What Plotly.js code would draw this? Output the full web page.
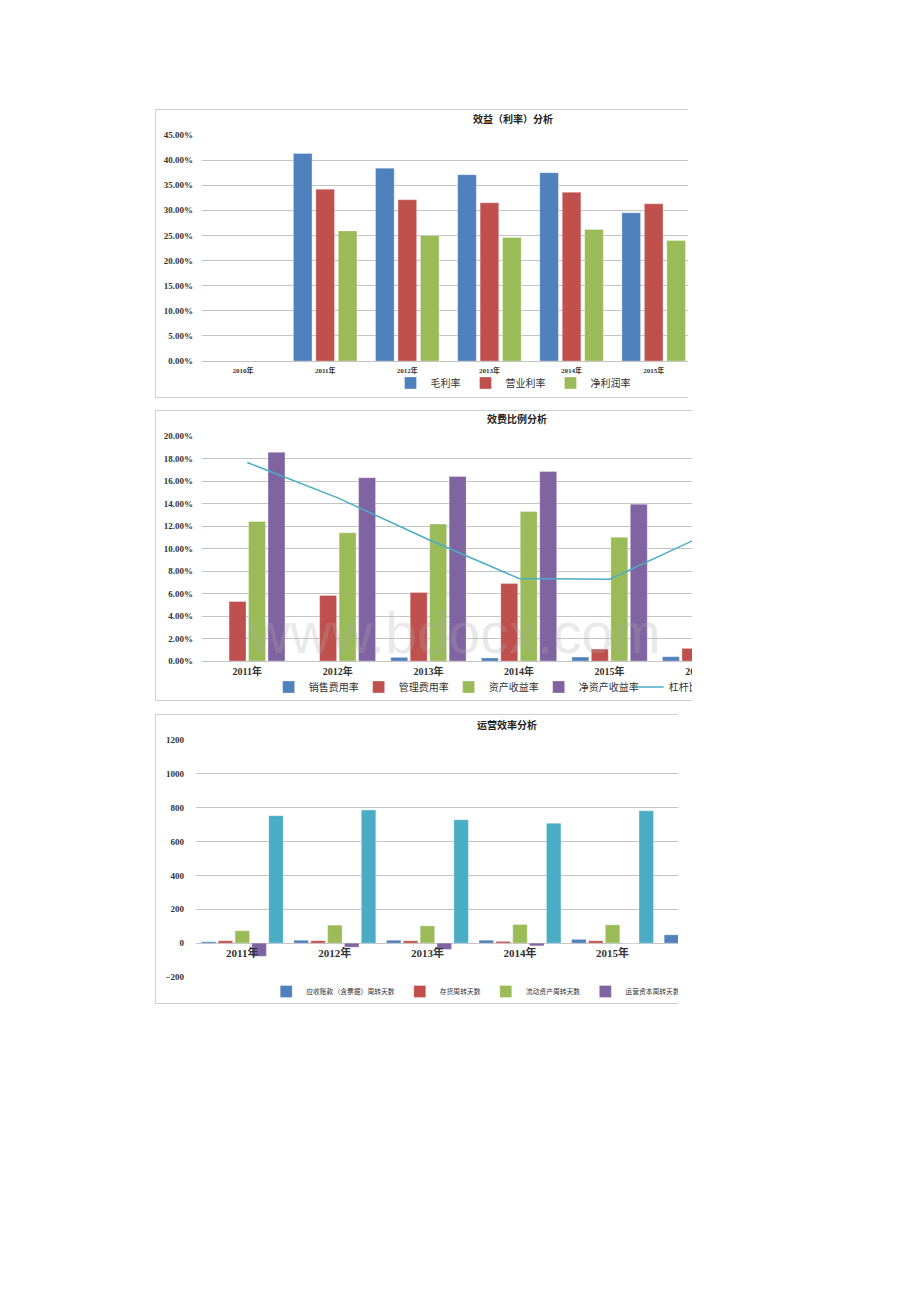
<!DOCTYPE html>
<html>
<head>
<meta charset="utf-8">
<script src="https://cdn.plot.ly/plotly-3.0.1.min.js"></script>
<style>
  body { margin: 0; background: #fff; width: 920px; height: 1302px; position: relative; }
  .frame { position: absolute; overflow: hidden; border: 1px solid #cfcfcf; border-right: none; background: #fff; }
</style>
</head>
<body>
<div class="frame" style="left:155px; top:109px; width:532px; height:287px;"><div id="chart1"></div></div>
<div class="frame" style="left:155px; top:410px; width:536px; height:289px;"><div id="chart2"></div></div>
<div class="frame" style="left:155px; top:714px; width:522px; height:288px;"><div id="chart3"></div></div>
<script>
// ---- chart 1: 效益（利率）分析 ----
const years1 = ["2010年", "2011年", "2012年", "2013年", "2014年", "2015年"];
const grossMargin = [null, 41.3, 38.4, 37.1, 37.5, 29.5];
const operatingMargin = [null, 34.2, 32.1, 31.5, 33.6, 31.3];
const netMargin = [null, 25.9, 25.0, 24.6, 26.2, 24.0];

// ---- chart 2: 效费比例分析 ----
const years2 = ["2011年", "2012年", "2013年", "2014年", "2015年", "2016年"];
const salesExpenseRate = [0, 0, 0.32, 0.27, 0.35, 0.38];
const adminExpenseRate = [5.29, 5.82, 6.09, 6.88, 1.06, 1.12];
const roa = [12.4, 11.4, 12.17, 13.3, 11.0, null];
const roe = [18.55, 16.3, 16.4, 16.84, 13.94, null];
const leverage = [17.64, 14.5, 10.8, 7.33, 7.27, 11.0];

// ---- chart 3: 运营效率分析 ----
const years3 = ["2011年", "2012年", "2013年", "2014年", "2015年", "2016年"];
const receivableDays = [8, 17, 17, 17, 22, 49];
const inventoryDays = [14, 14, 14, 10, 14, null];
const currentAssetDays = [73, 106, 102, 110, 108, null];
const workingCapitalDays = [-78, -24, -37, -16, 0, null];
const totalAssetDays = [753, 786, 729, 708, 782, null];

const BLUE = "#4F81BD", RED = "#C0504D", GREEN = "#9BBB59", PURPLE = "#8064A2", CYAN = "#4BACC6";
const CJK = "Noto Sans CJK SC";
const NUM = "Liberation Serif, Noto Sans CJK SC";
const GRID = "#c4c4c4";

function bar(name, x, y, color) {
    return { type: "bar", name: name, x: x, y: y, marker: { color: color, line: { color: "rgba(255,255,255,0.5)", width: 0.6 } } };
}

function titleOf(text, yFrac) {
    return { text: text, x: 0.5, xref: "container", y: yFrac, yref: "container", yanchor: "middle",
             font: { family: CJK, size: 10, color: "#222", weight: "bold" } };
}

const config = { displayModeBar: false, staticPlot: true };

// chart 1
Plotly.newPlot("chart1", [
    bar("毛利率", years1, grossMargin, BLUE),
    bar("营业利率", years1, operatingMargin, RED),
    bar("净利润率", years1, netMargin, GREEN),
], {
    width: 714, height: 287,
    margin: { l: 46, r: 11, t: 25, b: 36 },
    paper_bgcolor: "#fff", plot_bgcolor: "#fff",
    title: titleOf("效益（利率）分析", 0.966),
    barmode: "group", bargap: 0.18, bargroupgap: 0.17,
    xaxis: { type: "category", range: [-0.5, 7.5], showgrid: false, ticks: "", showline: false, ticklabelstandoff: 4,
             tickfont: { family: NUM, size: 7, color: "#333", weight: "bold" } },
    yaxis: { range: [0, 45], dtick: 5, tickformat: ".2f", ticksuffix: "%", gridcolor: GRID, zeroline: true, zerolinecolor: GRID,
             ticklabelstandoff: 8, tickfont: { family: NUM, size: 9, color: "#333", weight: "bold" } },
    showlegend: true,
    legend: { orientation: "h", xref: "container", x: 0.5, xanchor: "center", yref: "container", y: 0.049, yanchor: "middle",
              bgcolor: "rgba(0,0,0,0)", font: { family: CJK, size: 10, color: "#333" }, itemwidth: 30 },
}, config);

// chart 2
Plotly.newPlot("chart2", [
    bar("销售费用率", years2, salesExpenseRate, BLUE),
    bar("管理费用率", years2, adminExpenseRate, RED),
    bar("资产收益率", years2, roa, GREEN),
    bar("净资产收益率", years2, roe, PURPLE),
    { type: "scatter", mode: "lines", name: "杠杆比率", x: years2, y: leverage, line: { color: CYAN, width: 1.5 } },
], {
    width: 722, height: 289,
    margin: { l: 46, r: 42, t: 25, b: 39 },
    paper_bgcolor: "#fff", plot_bgcolor: "#fff",
    title: titleOf("效费比例分析", 0.969),
    barmode: "group", bargap: 0.14, bargroupgap: 0.13,
    xaxis: { type: "category", range: [-0.5, 6.5], showgrid: false, ticks: "", showline: false, ticklabelstandoff: 3,
             tickfont: { family: NUM, size: 10, color: "#333", weight: "bold" } },
    yaxis: { range: [0, 20], dtick: 2, tickformat: ".2f", ticksuffix: "%", gridcolor: GRID, zeroline: true, zerolinecolor: GRID,
             ticklabelstandoff: 8, tickfont: { family: NUM, size: 9, color: "#333", weight: "bold" } },
    showlegend: true,
    legend: { orientation: "h", xref: "container", x: 0.156, xanchor: "left", yref: "container", y: 0.045, yanchor: "middle",
              bgcolor: "rgba(0,0,0,0)", font: { family: CJK, size: 10, color: "#333" },
              entrywidth: 45, entrywidthmode: "pixels", traceorder: "normal" },
    annotations: [{ text: "www.bdocx.com", xref: "paper", yref: "paper", x: 0.399, y: 0.124, xanchor: "center", yanchor: "middle",
                    showarrow: false, font: { family: "Liberation Sans", size: 57, color: "rgba(170,170,170,0.26)" } }],
}, config);

// chart 3
Plotly.newPlot("chart3", [
    bar("应收账款（含票据）周转天数", years3, receivableDays, BLUE),
    bar("存货周转天数", years3, inventoryDays, RED),
    bar("流动资产周转天数", years3, currentAssetDays, GREEN),
    bar("运营资本周转天数", years3, workingCapitalDays, PURPLE),
    bar("总资产周转天数", years3, totalAssetDays, CYAN),
], {
    width: 702, height: 288,
    margin: { l: 40, r: 14, t: 25, b: 26 },
    paper_bgcolor: "#fff", plot_bgcolor: "#fff",
    title: titleOf("运营效率分析", 0.962),
    barmode: "group", bargap: 0.09, bargroupgap: 0.14,
    xaxis: { type: "category", range: [-0.5, 6.5], showgrid: false, ticks: "", showline: false,
             anchor: "free", position: 200 / 1400, ticklabelstandoff: 2,
             tickfont: { family: NUM, size: 11, color: "#333", weight: "bold" } },
    yaxis: { range: [-200, 1200], dtick: 200, gridcolor: GRID, zeroline: true, zerolinecolor: GRID,
             ticklabelstandoff: 11, tickfont: { family: NUM, size: 9, color: "#333", weight: "bold" } },
    showlegend: true,
    legend: { orientation: "h", xref: "container", x: 0.157, xanchor: "left", yref: "container", y: 0.04, yanchor: "middle",
              bgcolor: "rgba(0,0,0,0)", font: { family: CJK, size: 6.8, color: "#333" } },
}, config);
</script>
</body>
</html>
